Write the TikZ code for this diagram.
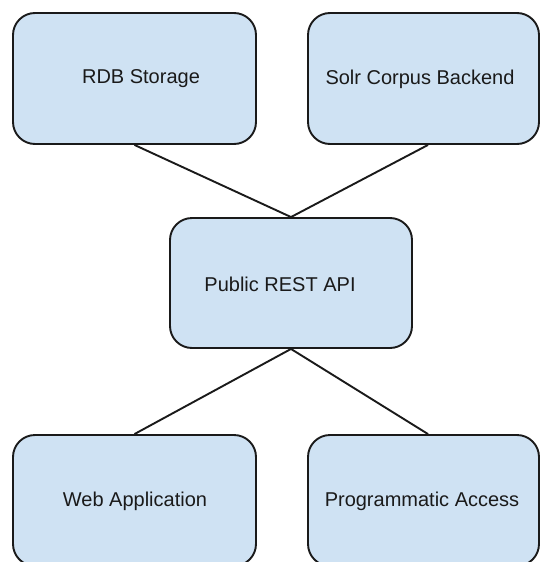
\documentclass[tikz,border=0pt]{standalone}
\usepackage{fontspec}
\setmainfont{Liberation Sans}
\definecolor{boxfill}{HTML}{CFE2F3}
\definecolor{ink}{HTML}{1A1A1A}
\begin{document}
\begin{tikzpicture}[x=1pt,y=-1pt,
  box/.style={draw=ink, line width=1.9pt, fill=boxfill, rounded corners=22pt, inner sep=0pt},
  lbl/.style={font=\fontsize{20}{23}\selectfont, text=ink, inner sep=0pt},
  link/.style={draw=ink, line width=1.9pt}]
\useasboundingbox (0,0) rectangle (540,562);
\clip (0,0) rectangle (540,562);
\node[box, minimum width=243pt, minimum height=131pt] (rdb)  at (134.5,78.5) {};
\node[box, minimum width=231pt, minimum height=131pt] (solr) at (423.5,78.5) {};
\node[box, minimum width=242pt, minimum height=130pt] (api)  at (291,283) {};
\node[box, minimum width=243pt, minimum height=131pt] (web)  at (134.5,500.5) {};
\node[box, minimum width=231pt, minimum height=131pt] (prog) at (423.5,500.5) {};
\node[lbl] (trdb)  at (141,79) {RDB Storage};
\node[lbl] (tsolr) at (420,79) {Solr Corpus Backend};
\node[lbl] (tapi)  at (280,284) {Public REST API};
\node[lbl] (tweb)  at (135,501) {Web Application};
\node[lbl] (tprog) at (422,501) {Programmatic Access};
\draw[link] (rdb.south) -- (api.north);
\draw[link] ([xshift=4.5pt]solr.south) -- (api.north);
\draw[link] (api.south) -- (web.north);
\draw[link] (api.south) -- ([xshift=4.5pt]prog.north);
\end{tikzpicture}
\end{document}
